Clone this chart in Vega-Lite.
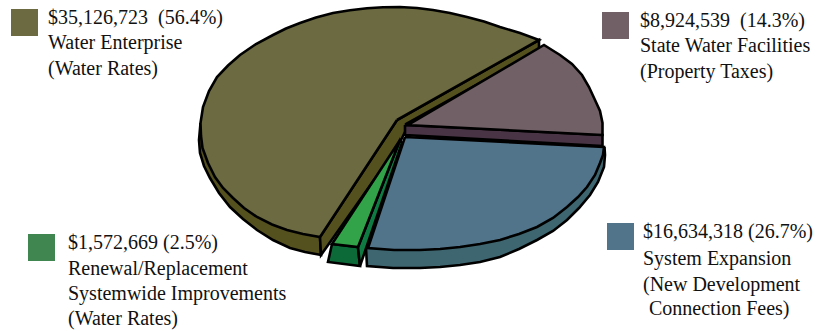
{
  "$schema": "https://vega.github.io/schema/vega-lite/v6.json",
  "width": 817,
  "height": 331,
  "padding": 0,
  "autosize": {"type": "none"},
  "background": "white",
  "view": {"stroke": null},
  "datasets": {
    "outlines": [
      {"surface":"Water wall outer","seq":1,"x":-199.5,"y":7},{"surface":"Water wall outer","seq":2,"x":-201,"y":-10},{"surface":"Water wall outer","seq":3,"x":-200,"y":-23},{"surface":"Water wall outer","seq":4,"x":-196,"y":-36},{"surface":"Water wall outer","seq":5,"x":-190,"y":-48},{"surface":"Water wall outer","seq":6,"x":-181,"y":-63},{"surface":"Water wall outer","seq":7,"x":-170,"y":-77},{"surface":"Water wall outer","seq":8,"x":-157,"y":-89},{"surface":"Water wall outer","seq":9,"x":-143,"y":-100},{"surface":"Water wall outer","seq":10,"x":-127,"y":-110},{"surface":"Water wall outer","seq":11,"x":-110,"y":-118},{"surface":"Water wall outer","seq":12,"x":-95,"y":-122},{"surface":"Water wall outer","seq":13,"x":-79,"y":-125},{"surface":"Water wall outer","seq":14,"x":-80,"y":-107},
      {"surface":"Water wall inner","seq":1,"x":-80,"y":-107},{"surface":"Water wall inner","seq":2,"x":-79,"y":-125},{"surface":"Water wall inner","seq":3,"x":-2,"y":-16},{"surface":"Water wall inner","seq":4,"x":6,"y":0},{"surface":"Water wall inner","seq":5,"x":6,"y":6},{"surface":"Water wall inner","seq":6,"x":139,"y":80},{"surface":"Water wall inner","seq":7,"x":139,"y":90},{"surface":"Water wall inner","seq":8,"x":-3,"y":10},{"surface":"Water wall inner","seq":9,"x":-80,"y":-107},
      {"surface":"Water top","seq":1,"x":-3,"y":10},{"surface":"Water top","seq":2,"x":139,"y":90},{"surface":"Water top","seq":3,"x":120,"y":97},{"surface":"Water top","seq":4,"x":100,"y":103},{"surface":"Water top","seq":5,"x":84,"y":108.5},{"surface":"Water top","seq":6,"x":67,"y":113},{"surface":"Water top","seq":7,"x":50,"y":117},{"surface":"Water top","seq":8,"x":33,"y":120},{"surface":"Water top","seq":9,"x":17,"y":122},{"surface":"Water top","seq":10,"x":0,"y":123},{"surface":"Water top","seq":11,"x":-17,"y":122.8},{"surface":"Water top","seq":12,"x":-33,"y":121.7},{"surface":"Water top","seq":13,"x":-50,"y":119.7},{"surface":"Water top","seq":14,"x":-67,"y":117},{"surface":"Water top","seq":15,"x":-84,"y":112.5},{"surface":"Water top","seq":16,"x":-100,"y":107},{"surface":"Water top","seq":17,"x":-114,"y":101.5},{"surface":"Water top","seq":18,"x":-127,"y":95},{"surface":"Water top","seq":19,"x":-144,"y":86},{"surface":"Water top","seq":20,"x":-160,"y":75},{"surface":"Water top","seq":21,"x":-172,"y":64.5},{"surface":"Water top","seq":22,"x":-183,"y":53},{"surface":"Water top","seq":23,"x":-191,"y":39},{"surface":"Water top","seq":24,"x":-197,"y":23},{"surface":"Water top","seq":25,"x":-199.5,"y":7},{"surface":"Water top","seq":26,"x":-199,"y":-6},{"surface":"Water top","seq":27,"x":-197.5,"y":-18},{"surface":"Water top","seq":28,"x":-192,"y":-33},{"surface":"Water top","seq":29,"x":-185,"y":-47},{"surface":"Water top","seq":30,"x":-177,"y":-58},{"surface":"Water top","seq":31,"x":-167,"y":-68},{"surface":"Water top","seq":32,"x":-156,"y":-78},{"surface":"Water top","seq":33,"x":-143,"y":-87},{"surface":"Water top","seq":34,"x":-128,"y":-94.5},{"surface":"Water top","seq":35,"x":-113,"y":-100},{"surface":"Water top","seq":36,"x":-97,"y":-104},{"surface":"Water top","seq":37,"x":-80,"y":-107},{"surface":"Water top","seq":38,"x":-3,"y":10},
      {"surface":"State wall","seq":1,"x":5,"y":5},{"surface":"State wall","seq":2,"x":202.5,"y":-5},{"surface":"State wall","seq":3,"x":202.5,"y":-16},{"surface":"State wall","seq":4,"x":5,"y":-5},{"surface":"State wall","seq":5,"x":5,"y":5},
      {"surface":"State top","seq":1,"x":8,"y":5},{"surface":"State top","seq":2,"x":144,"y":85},{"surface":"State top","seq":3,"x":152,"y":80},{"surface":"State top","seq":4,"x":160,"y":75},{"surface":"State top","seq":5,"x":172,"y":66},{"surface":"State top","seq":6,"x":182,"y":55},{"surface":"State top","seq":7,"x":189,"y":43},{"surface":"State top","seq":8,"x":195,"y":30},{"surface":"State top","seq":9,"x":200,"y":19},{"surface":"State top","seq":10,"x":202.5,"y":7},{"surface":"State top","seq":11,"x":202.5,"y":-5},{"surface":"State top","seq":12,"x":6,"y":5},{"surface":"State top","seq":13,"x":8,"y":5},
      {"surface":"System wall","seq":1,"x":204.5,"y":-17},{"surface":"System wall","seq":2,"x":205,"y":-25},{"surface":"System wall","seq":3,"x":204,"y":-37},{"surface":"System wall","seq":4,"x":198,"y":-52},{"surface":"System wall","seq":5,"x":190,"y":-65},{"surface":"System wall","seq":6,"x":179,"y":-78},{"surface":"System wall","seq":7,"x":167,"y":-90},{"surface":"System wall","seq":8,"x":153,"y":-101},{"surface":"System wall","seq":9,"x":137,"y":-110},{"surface":"System wall","seq":10,"x":119,"y":-119},{"surface":"System wall","seq":11,"x":100,"y":-127},{"surface":"System wall","seq":12,"x":80,"y":-132},{"surface":"System wall","seq":13,"x":60,"y":-135},{"surface":"System wall","seq":14,"x":40,"y":-137},{"surface":"System wall","seq":15,"x":20,"y":-138},{"surface":"System wall","seq":16,"x":-7,"y":-138},{"surface":"System wall","seq":17,"x":-33,"y":-136},{"surface":"System wall","seq":18,"x":-34,"y":-118},
      {"surface":"System top","seq":1,"x":5,"y":-7},{"surface":"System top","seq":2,"x":204,"y":-17},{"surface":"System top","seq":3,"x":203,"y":-25},{"surface":"System top","seq":4,"x":200,"y":-33},{"surface":"System top","seq":5,"x":195,"y":-45},{"surface":"System top","seq":6,"x":187,"y":-57},{"surface":"System top","seq":7,"x":178,"y":-67},{"surface":"System top","seq":8,"x":167,"y":-77},{"surface":"System top","seq":9,"x":153,"y":-88},{"surface":"System top","seq":10,"x":137,"y":-97},{"surface":"System top","seq":11,"x":119,"y":-104},{"surface":"System top","seq":12,"x":100,"y":-110},{"surface":"System top","seq":13,"x":80,"y":-114},{"surface":"System top","seq":14,"x":60,"y":-117},{"surface":"System top","seq":15,"x":40,"y":-119},{"surface":"System top","seq":16,"x":20,"y":-120},{"surface":"System top","seq":17,"x":-6,"y":-120},{"surface":"System top","seq":18,"x":-32,"y":-118},{"surface":"System top","seq":19,"x":5,"y":-7},
      {"surface":"Renewal wall front","seq":1,"x":-68,"y":-114},{"surface":"Renewal wall front","seq":2,"x":-72,"y":-132},{"surface":"Renewal wall front","seq":3,"x":-40,"y":-136},{"surface":"Renewal wall front","seq":4,"x":-42,"y":-117},{"surface":"Renewal wall front","seq":5,"x":-68,"y":-114},
      {"surface":"Renewal wall side","seq":1,"x":-42,"y":-117},{"surface":"Renewal wall side","seq":2,"x":-40,"y":-136},{"surface":"Renewal wall side","seq":3,"x":2,"y":-13},{"surface":"Renewal wall side","seq":4,"x":0,"y":-10},{"surface":"Renewal wall side","seq":5,"x":-42,"y":-117},
      {"surface":"Renewal top","seq":1,"x":0,"y":-10},{"surface":"Renewal top","seq":2,"x":-68,"y":-114},{"surface":"Renewal top","seq":3,"x":-42,"y":-117},{"surface":"Renewal top","seq":4,"x":0,"y":-10}
    ],
    "swatches": [
      {"slice":"Water Enterprise","amount":35126723,"share":56.4,"x":-375.5,"y":107.5},
      {"slice":"State Water Facilities","amount":8924539,"share":14.3,"x":215.5,"y":104.5},
      {"slice":"System Expansion","amount":16634318,"share":26.7,"x":220.5,"y":-106.5},
      {"slice":"Renewal/Replacement","amount":1572669,"share":2.5,"x":-358.5,"y":-117.5}
    ],
    "captions": [
      {"label":"$35,126,723\u00a0 (56.4%)","x":-352,"y":106},
      {"label":"Water Enterprise","x":-352,"y":81},
      {"label":"(Water Rates)","x":-352,"y":55},
      {"label":"$8,924,539\u00a0 (14.3%)","x":240,"y":103},
      {"label":"State Water Facilities","x":240,"y":78},
      {"label":"(Property Taxes)","x":240,"y":52},
      {"label":"$16,634,318 (26.7%)","x":243,"y":-108},
      {"label":"System Expansion","x":243,"y":-135},
      {"label":"(New Development","x":243,"y":-161},
      {"label":"Connection Fees)","x":249,"y":-185},
      {"label":"$1,572,669 (2.5%)","x":-332,"y":-119},
      {"label":"Renewal/Replacement","x":-332,"y":-145},
      {"label":"Systemwide Improvements","x":-332,"y":-170},
      {"label":"(Water Rates)","x":-332,"y":-195}
    ]
  },
  "layer": [
    {
      "data": {"name": "outlines"},
      "mark": {"type": "line", "stroke": "black", "clip": false},
      "encoding": {
        "x": {"field": "x", "type": "quantitative", "scale": {"domain": [-400, 417], "nice": false, "zero": false}, "axis": null},
        "y": {"field": "y", "type": "quantitative", "scale": {"domain": [-201, 130], "nice": false, "zero": false}, "axis": null},
        "order": {"field": "seq", "type": "quantitative"},
        "detail": {"field": "surface"},
        "fill": {
          "field": "surface",
          "type": "nominal",
          "legend": null,
          "scale": {
            "domain": ["Water wall outer","Water wall inner","Water top","State wall","State top","System wall","System top","Renewal wall front","Renewal wall side","Renewal top"],
            "range": ["#55511f","#55511f","#6c6a40","#483444","#716066","#3e6670","#51748a","#0b6a38","#0f7a42","#33a34a"]
          }
        },
        "strokeWidth": {
          "field": "surface",
          "type": "nominal",
          "legend": null,
          "scale": {
            "domain": ["Water wall outer","Water wall inner","Water top","State wall","State top","System wall","System top","Renewal wall front","Renewal wall side","Renewal top"],
            "range": [2.6,2.6,2.8,2.6,2.6,1.5,2.8,2.6,2,2.6]
          }
        }
      }
    },
    {
      "data": {"name": "swatches"},
      "mark": {"type": "point", "shape": "square", "filled": true, "size": 729, "opacity": 1},
      "encoding": {
        "x": {"field": "x", "type": "quantitative"},
        "y": {"field": "y", "type": "quantitative"},
        "color": {
          "field": "slice",
          "type": "nominal",
          "legend": null,
          "scale": {
            "domain": ["Water Enterprise","State Water Facilities","System Expansion","Renewal/Replacement"],
            "range": ["#6c6a40","#716066","#51748a","#3f8650"]
          }
        }
      }
    },
    {
      "data": {"name": "captions"},
      "mark": {"type": "text", "align": "left", "baseline": "alphabetic", "font": "Liberation Serif", "fontSize": 20, "fill": "#111111"},
      "encoding": {
        "x": {"field": "x", "type": "quantitative"},
        "y": {"field": "y", "type": "quantitative"},
        "text": {"field": "label"}
      }
    }
  ]
}
